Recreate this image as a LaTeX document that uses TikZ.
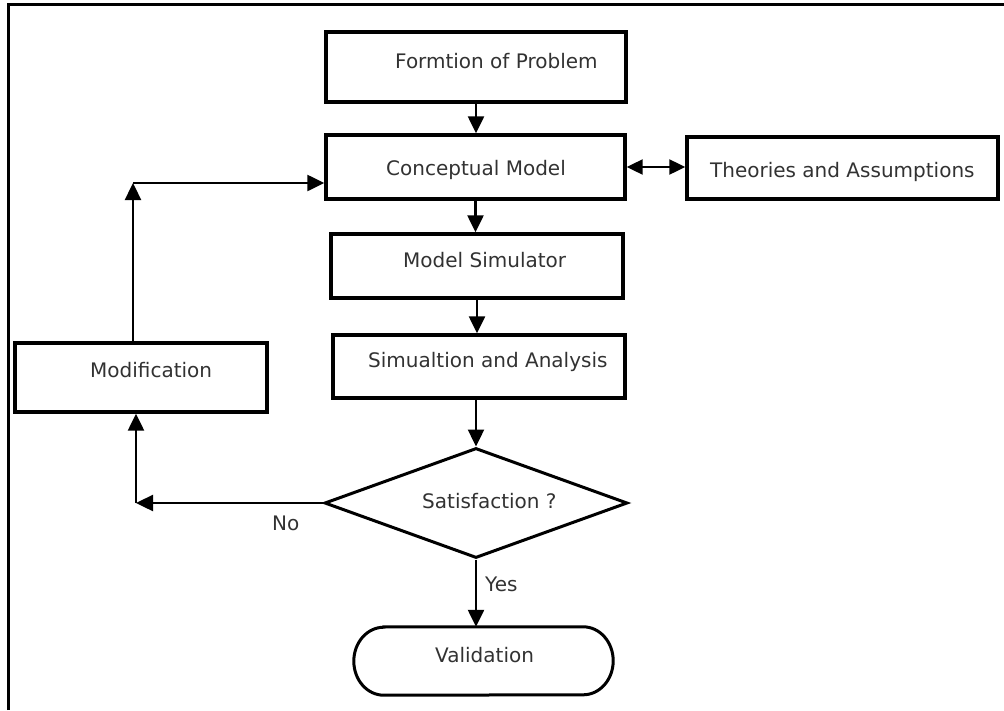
\documentclass[tikz,border=0pt]{standalone}
\usepackage{fontspec}
\setmainfont{DejaVu Sans}
\usetikzlibrary{shapes.geometric,arrows.meta}
\definecolor{txt}{RGB}{50,50,50}
\begin{document}
\begin{tikzpicture}[x=1pt,y=-1pt,
  box/.style={draw, line width=3.4pt, inner sep=0pt},
  lbl/.style={anchor=base west, inner sep=0pt, text=txt, font=\fontsize{20}{24}\selectfont},
  arr/.style={line width=2.4pt, -{Triangle[length=17pt,width=16pt]}},
  arrb/.style={line width=2.2pt, {Triangle[length=16pt,width=15pt]}-{Triangle[length=16pt,width=15pt]}},
  frame/.style={line width=3pt}]
\useasboundingbox (0,0) rectangle (1004,710);
\draw[frame] (8,710) -- (8,4) -- (1004,4);

% boxes
\node[box, minimum width=300pt, minimum height=70pt] (form) at (476,67) {};
\node[box, minimum width=299pt, minimum height=64pt] (concept) at (475.5,167) {};
\node[box, minimum width=311pt, minimum height=62pt] (theo) at (842.5,168) {};
\node[box, minimum width=292pt, minimum height=64pt] (msim) at (477,266) {};
\node[box, minimum width=292pt, minimum height=63pt] (sim) at (479,366.5) {};
\node[box, minimum width=252pt, minimum height=69pt] (mod) at (141,377.5) {};
\node[diamond, draw, line width=3pt, inner sep=0pt, minimum width=303pt, minimum height=110pt] (dia) at (476,503) {};
\node[inner sep=0pt, minimum width=259pt, minimum height=68pt] (val) at (483.5,661) {};
\draw[line width=3pt] ([xshift=30pt]val.north west) -- ([xshift=-30pt]val.north east)
  arc[start angle=-90, end angle=90, x radius=30, y radius=34]
  -- ([xshift=30pt]val.south west)
  arc[start angle=90, end angle=270, x radius=30, y radius=34] -- cycle;

% texts
\node[lbl] (tform) at (395,68) {Formtion of Problem};
\node[lbl] (tconcept) at (386,175) {Conceptual Model};
\node[lbl] (ttheo) at (710,177) {Theories and Assumptions};
\node[lbl] (tmsim) at (403,267) {Model Simulator};
\node[lbl] (tsim) at (368,367) {Simualtion and Analysis};
\node[lbl] (tmod) at (90,377) {Modification};
\node[lbl] (tdia) at (422,508) {Satisfaction ?};
\node[lbl] (tval) at (435,662) {Validation};
\node[lbl] (tyes) at (485,591) {Yes};
\node[lbl] (tno) at (272,530) {No};

% connectors
\draw[arr] (form.south) -- (form.south |- concept.north);
\draw[arr] (concept.south) -- (concept.south |- msim.north);
\draw[arr] (msim.south) -- (msim.south |- sim.north);
\draw[arr] (dia.north |- sim.south) -- (dia.north);
\draw[arr] (dia.south) -- (dia.south |- val.north);
\draw[arrb] (concept.east) -- (concept.east -| theo.west);
\coordinate (c1) at (136,503);
\coordinate (c2) at (133,183);
\draw[arr] (dia.west) -- (c1);
\draw[arr] (c1) -- (c1 |- mod.south);
\draw[arr] (c2 |- mod.north) -- (c2);
\draw[arr] (c2) -- (c2 -| concept.west);
\end{tikzpicture}
\end{document}
